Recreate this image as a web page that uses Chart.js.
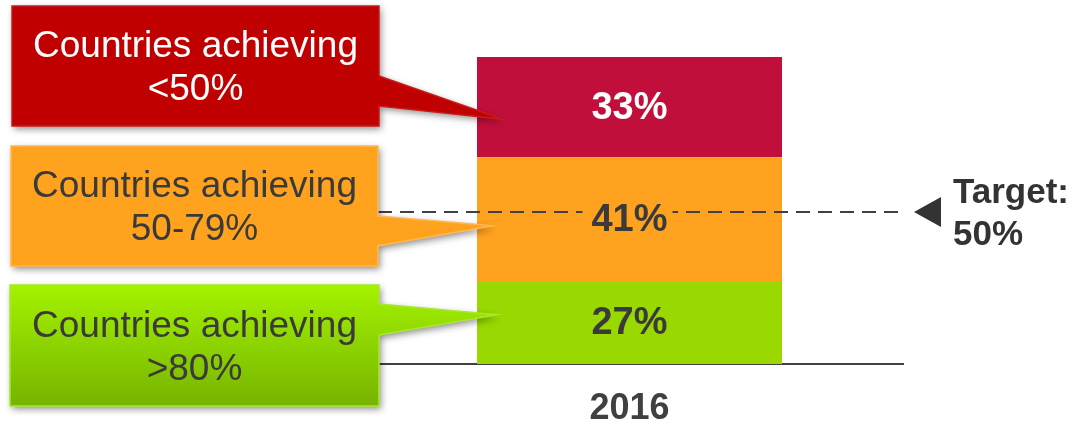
<!DOCTYPE html>
<html>
<head>
<meta charset="utf-8">
<script src="https://cdn.jsdelivr.net/npm/chart.js@4"></script>
<style>
  html, body { margin: 0; padding: 0; background: #fff; }
</style>
</head>
<body>
<canvas id="myChart" width="1076" height="424"></canvas>
<script>
// data
const categories = ['2016'];
const seriesNames = [
  ['Countries achieving', '>80%'],
  ['Countries achieving', '50-79%'],
  ['Countries achieving', '<50%']
];
const over80 = [27];
const from50to79 = [41];
const under50 = [33];
const targetValue = 50;
const targetText = ['Target:', '50%'];

const FONT = '"Liberation Sans", Arial, sans-serif';
const barColors = ['#99D800', '#FFA21F', '#C10E3B'];
const valueColors = ['#3A3A3A', '#3A3A3A', '#FFFFFF'];

// callout boxes, bottom to top (same order as datasets)
const callouts = [
  { x: 10, y: 285, w: 369, h: 121, p1: 19, p2: 50, tipDx: 20, tipFrac: 0.40,
    fill: ['#A4F200', '#76B400'], border: '#A8E830', text: '#3A3A3A' },
  { x: 11, y: 146, w: 367, h: 120, p1: 70, p2: 100, tipDx: 16, tipFrac: 0.55,
    fill: ['#FFA31F', '#FFA31F'], border: '#FFB850', text: '#3A3A3A' },
  { x: 12, y: 6, w: 367, h: 120, p1: 70, p2: 100, tipDx: 26, tipFrac: 0.62,
    fill: ['#C00000', '#C00000'], border: '#C81A1A', text: '#FFFFFF' }
];

const overlay = {
  id: 'overlay',
  afterDatasetsDraw(chart) {
    const ctx = chart.ctx;
    const area = chart.chartArea;
    const ty = chart.scales.y.getPixelForValue(targetValue);

    // target line
    ctx.save();
    ctx.strokeStyle = '#404040';
    ctx.lineWidth = 2;
    ctx.setLineDash([14, 8]);
    ctx.beginPath();
    ctx.moveTo(area.left, ty);
    ctx.lineTo(area.right - 5, ty);
    ctx.stroke();
    ctx.restore();

    // value labels
    ctx.save();
    ctx.font = 'bold 38px ' + FONT;
    ctx.textAlign = 'center';
    ctx.textBaseline = 'middle';
    chart.data.datasets.forEach((ds, i) => {
      const bar = chart.getDatasetMeta(i).data[0];
      const cy = (bar.y + bar.base) / 2;
      const txt = ds.data[0] + '%';
      const w = ctx.measureText(txt).width;
      if (Math.abs(ty - cy) < 22) {
        ctx.fillStyle = ds.backgroundColor;
        ctx.fillRect(bar.x - w / 2 - 9, cy - 18, w + 14, 36);
      }
      ctx.fillStyle = valueColors[i];
      ctx.fillText(txt, bar.x, cy + 1);
    });
    ctx.restore();

    // target marker
    ctx.save();
    ctx.fillStyle = '#333333';
    ctx.beginPath();
    ctx.moveTo(914, ty);
    ctx.lineTo(941, ty - 15);
    ctx.lineTo(941, ty + 15);
    ctx.closePath();
    ctx.fill();
    ctx.font = 'bold 35px ' + FONT;
    ctx.textAlign = 'left';
    ctx.textBaseline = 'alphabetic';
    ctx.fillText(targetText[0], 953, 203);
    ctx.fillText(targetText[1], 953, 245);
    ctx.restore();

    // callouts
    callouts.forEach((c, i) => {
      const bar = chart.getDatasetMeta(i).data[0];
      const tipX = bar.x - bar.width / 2 + c.tipDx;
      const tipY = bar.y + (bar.base - bar.y) * c.tipFrac;
      const r = c.x + c.w;
      ctx.save();
      ctx.beginPath();
      ctx.moveTo(c.x, c.y);
      ctx.lineTo(r, c.y);
      ctx.lineTo(r, c.y + c.p1);
      ctx.lineTo(tipX, tipY);
      ctx.lineTo(r, c.y + c.p2);
      ctx.lineTo(r, c.y + c.h);
      ctx.lineTo(c.x, c.y + c.h);
      ctx.closePath();
      const g = ctx.createLinearGradient(0, c.y, 0, c.y + c.h);
      g.addColorStop(0, c.fill[0]);
      g.addColorStop(1, c.fill[1]);
      ctx.shadowColor = 'rgba(0,0,0,0.45)';
      ctx.shadowBlur = 7;
      ctx.shadowOffsetX = 2;
      ctx.shadowOffsetY = 3;
      ctx.fillStyle = g;
      ctx.fill();
      ctx.shadowColor = 'transparent';
      ctx.strokeStyle = c.border;
      ctx.lineWidth = 1.5;
      ctx.stroke();
      const cx = c.x + c.w / 2;
      const cy = c.y + c.h / 2;
      ctx.font = '37px ' + FONT;
      ctx.textAlign = 'center';
      ctx.textBaseline = 'alphabetic';
      ctx.fillStyle = c.text;
      ctx.fillText(seriesNames[i][0], cx, cy - 9);
      ctx.fillText(seriesNames[i][1], cx, cy + 34);
      ctx.restore();
    });
  }
};

const ctx = document.getElementById('myChart').getContext('2d');
const chart = new Chart(ctx, {
  type: 'bar',
  data: {
    labels: categories,
    datasets: [
      { label: seriesNames[0].join(' '), data: over80, backgroundColor: barColors[0] },
      { label: seriesNames[1].join(' '), data: from50to79, backgroundColor: barColors[1] },
      { label: seriesNames[2].join(' '), data: under50, backgroundColor: barColors[2] }
    ]
  },
  options: {
    responsive: false,
    animation: false,
    layout: { padding: { left: 356, right: 173, top: 57, bottom: 0 } },
    datasets: { bar: { barPercentage: 0.5576, categoryPercentage: 1, borderWidth: 0 } },
    plugins: { legend: { display: false }, tooltip: { enabled: false } },
    scales: {
      x: {
        stacked: true,
        grid: { display: false, drawTicks: false },
        border: { display: true, color: '#404040', width: 2 },
        ticks: { color: '#404040', padding: 23, font: { family: FONT, size: 36, weight: 'bold' } },
        afterFit(scale) { scale.height = 60; }
      },
      y: {
        stacked: true,
        display: false,
        min: 0,
        max: 101
      }
    }
  },
  plugins: [overlay]
});
</script>
</body>
</html>
